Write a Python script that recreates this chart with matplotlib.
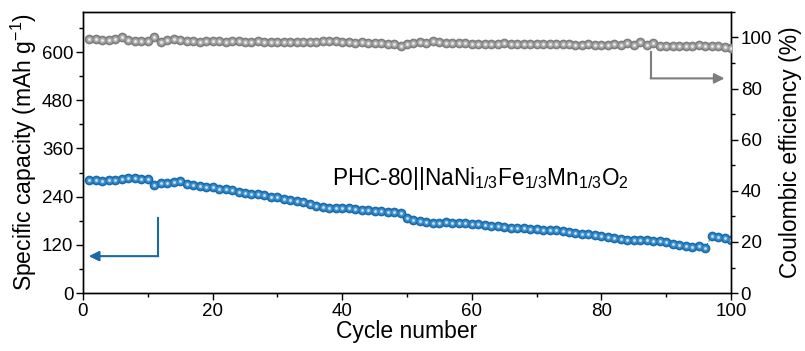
import numpy as np
import matplotlib.pyplot as plt
from matplotlib.ticker import MultipleLocator

plt.rcParams['font.family'] = ['Liberation Sans', 'DejaVu Sans']
plt.rcParams['mathtext.fontset'] = 'custom'
plt.rcParams['mathtext.rm'] = 'Liberation Sans'
plt.rcParams['mathtext.it'] = 'Liberation Sans:italic'
plt.rcParams['mathtext.bf'] = 'Liberation Sans:bold'

cycles = list(range(1, 101))

capacity = [281, 281, 280, 282, 282, 284, 287, 286, 285, 283,
            270, 273, 275, 276, 278, 272, 269, 267, 265, 263,
            260, 258, 256, 252, 248, 246, 246, 244, 240, 238,
            235, 232, 229, 226, 222, 218, 214, 212, 212, 213,
            212, 210, 208, 206, 205, 204, 202, 201, 200, 186,
            183, 180, 176, 175, 175, 176, 175, 175, 174, 172,
            171, 170, 168, 166, 164, 162, 161, 161, 160, 159,
            158, 157, 157, 155, 153, 150, 148, 146, 144, 142,
            140, 138, 135, 132, 132, 132, 131, 130, 130, 126,
            122, 119, 117, 114, 116, 112, 141, 140, 137, 133]

efficiency = [99.6, 99.6, 99.0, 99.2, 99.6, 100.2, 99.0, 98.8, 98.8, 98.6,
              100.3, 98.2, 99.2, 99.4, 99.0, 98.6, 98.6, 98.4, 98.6, 98.6,
              98.6, 98.4, 98.6, 98.6, 98.4, 98.4, 98.6, 98.4, 98.2, 98.4,
              98.4, 98.2, 98.2, 98.4, 98.4, 98.2, 98.6, 98.8, 98.6, 98.4,
              98.2, 97.8, 98.2, 98.0, 97.8, 97.8, 97.6, 97.4, 96.8, 97.4,
              97.8, 98.2, 98.0, 98.6, 98.4, 97.8, 98.0, 98.0, 97.8, 97.6,
              97.6, 97.4, 97.6, 97.6, 97.8, 97.6, 97.4, 97.6, 97.4, 97.6,
              97.4, 97.6, 97.4, 97.4, 97.4, 97.2, 97.2, 97.4, 97.2, 97.0,
              97.2, 97.4, 97.0, 97.8, 97.2, 98.2, 97.0, 97.8, 96.8, 96.8,
              96.8, 96.8, 96.6, 96.8, 97.2, 96.8, 96.6, 96.6, 96.2, 95.8]

fig = plt.figure(figsize=(8.05, 3.51), dpi=100)
ax = fig.add_axes([0.1031, 0.165, 0.805, 0.801])
ax2 = ax.twinx()


def balls(axis, x, y, rim, body, shine):
    # shaded spheres: dark rim, lighter body, small bright spot
    axis.plot(x, y, color=rim, lw=0.8, ls=':', zorder=2)
    axis.plot(x, y, 'o', ms=7.0, mfc=rim, mec=rim, mew=0, zorder=3)
    axis.plot(x, y, 'o', ms=4.6, mfc=body, mec=body, mew=0, zorder=4)
    axis.plot(x, y, 'o', ms=2.0, mfc=shine, mec=shine, mew=0, zorder=5)


balls(ax, cycles, capacity, '#1a6aa8', '#3d90cf', '#cde5f7')
balls(ax2, cycles, efficiency, '#7d7d7d', '#a8a8a8', '#eeeeee')

ax.set_xlim(0, 100)
ax.set_ylim(0, 700)
ax2.set_ylim(0, 110)

ax.xaxis.set_major_locator(MultipleLocator(20))
ax.xaxis.set_minor_locator(MultipleLocator(10))
ax.yaxis.set_major_locator(MultipleLocator(120))
ax.yaxis.set_minor_locator(MultipleLocator(60))
ax2.yaxis.set_major_locator(MultipleLocator(20))
ax2.yaxis.set_minor_locator(MultipleLocator(10))

for a in (ax, ax2):
    a.tick_params(which='major', direction='out', length=5, width=1,
                  labelsize=13.5, pad=2)
    a.tick_params(which='minor', direction='out', length=3, width=1)
    for s in a.spines.values():
        s.set_linewidth(1)

ax.set_xlabel('Cycle number', fontsize=16.5, labelpad=0)
ax.set_ylabel('Specific capacity (mAh g$^{-1}$)', fontsize=16.5, labelpad=2)
ax2.set_ylabel('Coulombic efficiency (%)', fontsize=16.5, labelpad=5)

# guide arrows pointing at each axis
ax.plot([11.6, 11.6], [187, 92], color='#1a6aa8', lw=1.5)
ax.annotate('', xy=(0.9, 92), xytext=(11.6, 92),
            arrowprops=dict(arrowstyle='-|>', color='#1a6aa8', lw=1.5,
                            mutation_scale=15, shrinkA=0, shrinkB=0))
ax2.plot([87.6, 87.6], [94.3, 84], color='#7d7d7d', lw=1.5)
ax2.annotate('', xy=(99, 84), xytext=(87.6, 84),
             arrowprops=dict(arrowstyle='-|>', color='#7d7d7d', lw=1.5,
                             mutation_scale=15, shrinkA=0, shrinkB=0))

ax.text(38.4, 286, 'PHC-80||NaNi$_{1/3}$Fe$_{1/3}$Mn$_{1/3}$O$_2$',
        fontsize=16.3, va='center', ha='left')

fig.savefig('out.png', dpi=100)
